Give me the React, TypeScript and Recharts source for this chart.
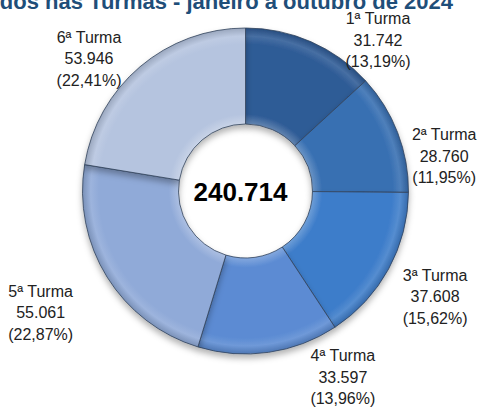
import { Cell, Pie, PieChart } from "recharts";

// processos distribuídos por turma
const turmas = ["1ª Turma", "2ª Turma", "3ª Turma", "4ª Turma", "5ª Turma", "6ª Turma"];
const processos = [31742, 28760, 37608, 33597, 55061, 53946];

const sliceColors = ["#2e5b96", "#376fb2", "#3e7dca", "#5b8bd3", "#90aad8", "#b5c4df"];
// shift of each label from its point on the label ring
const labelNudges: [number, number][] = [
  [52, 32],
  [12, 37],
  [14, 10],
  [69, -12],
  [-35, 16],
  [-27, 20],
];

const WIDTH = 479;
const HEIGHT = 408;
const CX = 245.5;
const CY = 191;
const INNER = 67;
const OUTER = 163;
const LABEL_R = 200;
const LINE = 21.5;

const total = processos.reduce((a, b) => a + b, 0);

const fmtInt = (n: number) =>
  String(Math.round(n)).replace(/\B(?=(\d{3})+(?!\d))/g, ".");
const fmtPct = (n: number) => (n * 100).toFixed(2).replace(".", ",") + "%";

const mix = (hex: string, target: number, t: number) => {
  const v = parseInt(hex.slice(1), 16);
  const ch = [(v >> 16) & 255, (v >> 8) & 255, v & 255].map((c) =>
    Math.round(c + (target - c) * t)
  );
  return "#" + ch.map((c) => c.toString(16).padStart(2, "0")).join("");
};

const data = turmas.map((name, i) => ({ name, value: processos[i] }));

const renderLabel = (props: any) => {
  const { cx, cy, midAngle, index } = props;
  const rad = (-midAngle * Math.PI) / 180;
  const x = cx + LABEL_R * Math.cos(rad) + labelNudges[index][0];
  const y = cy + LABEL_R * Math.sin(rad) + labelNudges[index][1];
  const v = processos[index];
  return (
    <text
      key={`lbl-${index}`}
      x={x}
      y={y}
      textAnchor="middle"
      fill="#222"
      fontSize={16}
      fontFamily="'Liberation Sans', Arial, sans-serif"
    >
      <tspan x={x} y={y - LINE} dy="0.35em">
        {turmas[index]}
      </tspan>
      <tspan x={x} y={y} dy="0.35em">
        {fmtInt(v)}
      </tspan>
      <tspan x={x} y={y + LINE} dy="0.35em">
        ({fmtPct(v / total)})
      </tspan>
    </text>
  );
};

const App = () => {
  const inner = INNER / OUTER;
  return (
    <div style={{ position: "absolute", left: 0, top: 0, background: "#fff" }}>
      <PieChart
        width={WIDTH}
        height={HEIGHT}
        margin={{ top: 0, right: 0, bottom: 0, left: 0 }}
      >
        <defs>
          {sliceColors.map((c, i) => (
            <radialGradient
              key={i}
              id={`bevel${i}`}
              gradientUnits="userSpaceOnUse"
              cx={CX}
              cy={CY}
              r={OUTER}
            >
              <stop offset={inner} stopColor={mix(c, 255, 0.25)} />
              <stop offset={inner + 0.06} stopColor={c} />
              <stop offset={0.9} stopColor={c} />
              <stop offset={0.95} stopColor={mix(c, 255, 0.12)} />
              <stop offset={1} stopColor={mix(c, 0, 0.15)} />
            </radialGradient>
          ))}
          <filter id="pieShadow" x="-20%" y="-20%" width="140%" height="140%">
            <feDropShadow dx="0" dy="4" stdDeviation="3" floodColor="#000" floodOpacity="0.3" />
          </filter>
        </defs>
        <text
          x={453}
          y={9}
          textAnchor="end"
          fill="#1f4e79"
          fontSize={22}
          fontWeight="bold"
          fontFamily="'Liberation Sans', Arial, sans-serif"
        >
          Processos Distribuídos nas Turmas - janeiro a outubro de 2024
        </text>
        <Pie
          data={data}
          dataKey="value"
          nameKey="name"
          cx={CX}
          cy={CY}
          innerRadius={INNER}
          outerRadius={OUTER}
          startAngle={90}
          endAngle={-270}
          stroke="#31435c"
          strokeWidth={0.8}
          label={renderLabel}
          labelLine={false}
          isAnimationActive={false}
        >
          {data.map((d, i) => (
            <Cell key={d.name} fill={`url(#bevel${i})`} filter="url(#pieShadow)" />
          ))}
        </Pie>
        <text
          x={CX - 5}
          y={CY + 1}
          dy="0.35em"
          textAnchor="middle"
          fill="#000"
          fontSize={26}
          fontWeight="bold"
          fontFamily="'Liberation Sans', Arial, sans-serif"
        >
          {fmtInt(total)}
        </text>
      </PieChart>
    </div>
  );
};

export default App;
